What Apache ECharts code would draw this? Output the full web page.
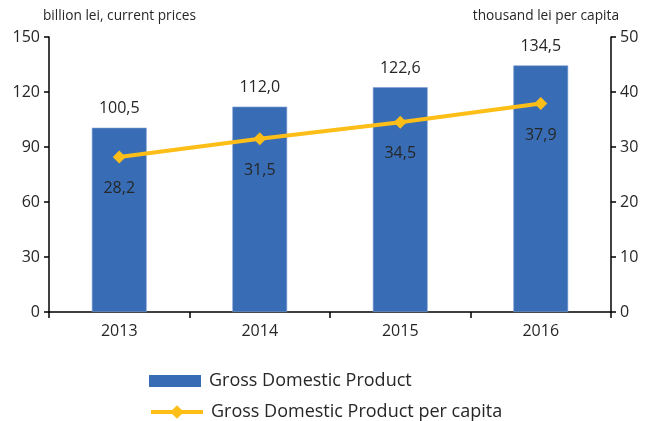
<!DOCTYPE html>
<html>
<head>
<meta charset="utf-8">
<script src="https://cdn.jsdelivr.net/npm/echarts@6/dist/echarts.min.js"></script>
<style>
html, body { margin: 0; padding: 0; background: #fff; }
#main { width: 650px; height: 421px; }
</style>
</head>
<body>
<div id="main"></div>
<script>
// data
var years = ['2013', '2014', '2015', '2016'];
var gdp = [100.5, 112.0, 122.6, 134.5];
var gdpPerCapita = [28.2, 31.5, 34.5, 37.9];
var leftTicks = [0, 30, 150];   // min, interval, max
var rightTicks = [0, 10, 50];

function comma(v) {
	return v.toFixed(1).replace('.', ',');
}

var font = '"Open Sans", "Noto Sans", sans-serif';
var legendText = { fontSize: 18, color: '#262626', fontFamily: font, padding: [0, 0, 0, 3] };
var chart = echarts.init(document.getElementById('main'));
chart.setOption({
	animation: false,
	textStyle: { fontFamily: font },
	grid: { left: 49, right: 39, top: 37, bottom: 109 },
	legend: [{
		left: 144,
		top: 367,
		itemWidth: 52,
		itemHeight: 12,
		icon: 'rect',
		itemStyle: { borderWidth: 0 },
		textStyle: legendText,
		data: ['Gross Domestic Product']
	}, {
		left: 144,
		top: 398,
		itemWidth: 52,
		itemHeight: 17,
		lineStyle: { width: 4 },
		textStyle: legendText,
		data: ['Gross Domestic Product per capita']
	}],
	xAxis: {
		type: 'category',
		data: years,
		axisLine: { lineStyle: { color: '#000', width: 1.5 } },
		axisTick: { show: true, length: 6, lineStyle: { color: '#000', width: 1.5 } },
		axisLabel: { fontSize: 16, color: '#262626', margin: 11 }
	},
	yAxis: [{
		type: 'value',
		min: leftTicks[0], interval: leftTicks[1], max: leftTicks[2],
		name: 'billion lei, current prices',
		nameGap: 14,
		nameTextStyle: { fontSize: 13.7, color: '#262626', align: 'left', padding: [0, 0, 0, -6] },
		axisLine: { show: true, lineStyle: { color: '#000', width: 1.5 } },
		axisTick: { show: true, length: 5, lineStyle: { color: '#000', width: 1.5 } },
		axisLabel: { fontSize: 16, color: '#262626', margin: 9 },
		splitLine: { show: false }
	}, {
		type: 'value',
		min: rightTicks[0], interval: rightTicks[1], max: rightTicks[2],
		name: 'thousand lei per capita',
		nameGap: 14,
		nameTextStyle: { fontSize: 13.7, color: '#262626', align: 'right', padding: [0, -8, 0, 0] },
		axisLine: { show: true, lineStyle: { color: '#000', width: 1.5 } },
		axisTick: { show: true, length: 5, lineStyle: { color: '#000', width: 1.5 } },
		axisLabel: { fontSize: 16, color: '#262626', margin: 9 },
		splitLine: { show: false }
	}],
	series: [{
		name: 'Gross Domestic Product',
		type: 'bar',
		data: gdp,
		barWidth: '39%',
		itemStyle: { color: '#386db5', borderColor: '#7da0d2', borderWidth: 0.6 },
		label: {
			show: true,
			position: 'top',
			distance: 11,
			fontSize: 16,
			color: '#262626',
			formatter: function(p) { return comma(p.value); }
		},
		z: 2
	}, {
		name: 'Gross Domestic Product per capita',
		type: 'line',
		yAxisIndex: 1,
		data: gdpPerCapita,
		symbol: 'diamond',
		symbolSize: 13,
		lineStyle: { color: '#fdbe17', width: 4 },
		itemStyle: { color: '#fdbe17' },
		label: {
			show: true,
			position: 'bottom',
			distance: 17,
			fontSize: 16,
			color: '#262626',
			formatter: function(p) { return comma(p.value); }
		},
		z: 3
	}]
});
</script>
</body>
</html>
